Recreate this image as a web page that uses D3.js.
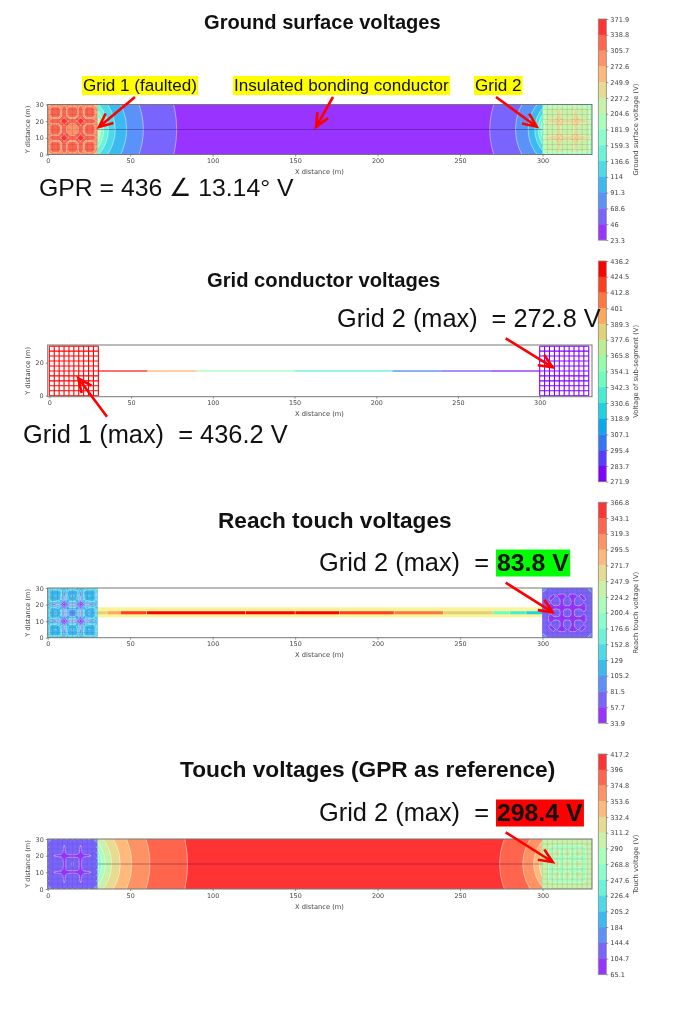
<!DOCTYPE html>
<html>
<head>
<meta charset="utf-8">
<title>Grid voltages</title>
<script src="https://cdn.jsdelivr.net/npm/d3@7"></script>
<style>
  html, body { margin: 0; background: #fff; }
  svg { display: block; filter: blur(0.5px); }
  text { font-family: "Liberation Sans", Arial, sans-serif; fill: #111; }
  .tiny text, text.tiny { font-family: "DejaVu Sans", sans-serif; fill: #444; }
</style>
</head>
<body>
<svg id="chart" width="680" height="1033"></svg>
<script>
// colorbar tick labels, top to bottom
const surfaceTicks = [371.9, 338.8, 305.7, 272.6, 249.9, 227.2, 204.6, 181.9, 159.3, 136.6, 114, 91.3, 68.6, 46, 23.3];
const conductorTicks = [436.2, 424.5, 412.8, 401, 389.3, 377.6, 365.8, 354.1, 342.3, 330.6, 318.9, 307.1, 295.4, 283.7, 271.9];
const reachTicks = [366.8, 343.1, 319.3, 295.5, 271.7, 247.9, 224.2, 200.4, 176.6, 152.8, 129, 105.2, 81.5, 57.7, 33.9];
const touchTicks = [417.2, 396, 374.8, 353.6, 332.4, 311.2, 290, 268.8, 247.6, 226.4, 205.2, 184, 144.4, 104.7, 65.1];

const xTicks = [0, 50, 100, 150, 200, 250, 300];
const yTicks = [0, 10, 20, 30];
const conductorYTicks = [0, 20];
const meshLines = [0, 3, 6, 9, 12, 15, 18, 21, 24, 27, 30];

// contour crossings on the bonding conductor (m) and the colour band outside each one
const surfaceLeftArcs = [78.2, 58, 47.9, 41, 36.8, 34, 32, 31];
const surfaceLeftBands = [1, 2, 3, 4, 5, 6, 7, 9];
const surfaceRightArcs = [268, 283.6, 291.3, 295.3, 297.4, 299];
const surfaceRightBands = [1, 2, 3, 4, 5, 6];
const touchLeftArcs = [84.8, 62, 51, 44, 38.8, 35, 32.7, 31];
const touchLeftBands = [12, 11, 10, 9, 8, 7, 6, 5];
const touchRightArcs = [274, 288, 294.6, 298];
const touchRightBands = [12, 11, 10, 9];

// bonding conductor sub-segments: [from m, to m, volts]
const conductorSegments = [[30, 60, 430], [60, 90, 395], [90, 150, 360], [150, 210, 335], [210, 240, 305], [240, 270, 285], [270, 300, 275]];
const reachSegments = [[30, 36, 255], [36, 44, 285], [44, 60, 340], [60, 120, 360], [120, 150, 345], [150, 177, 345], [177, 210, 325], [210, 240, 300], [240, 270, 260], [270, 280, 190], [280, 290, 170], [290, 300, 140]];

// one quarter of each grid (0 to 15 m, every 5/3 m), volts
const surfaceGrid1 = [
  [262, 268, 275, 270, 275, 285, 300, 290, 280, 275],
  [268, 300, 312, 315, 310, 295, 320, 300, 312, 312],
  [275, 312, 325, 325, 320, 300, 335, 305, 318, 320],
  [270, 315, 325, 328, 320, 300, 335, 305, 320, 325],
  [275, 310, 320, 320, 312, 300, 330, 300, 315, 318],
  [285, 295, 300, 300, 300, 315, 345, 320, 300, 300],
  [300, 320, 335, 335, 330, 345, 375, 345, 335, 335],
  [290, 300, 305, 305, 300, 320, 345, 320, 305, 300],
  [280, 312, 318, 320, 315, 300, 335, 305, 285, 295],
  [275, 312, 320, 325, 318, 300, 335, 300, 295, 310]
];
const surfaceGrid2 = [
  [172, 178, 182, 178, 180, 183, 188, 185, 183, 180],
  [178, 192, 208, 206, 206, 208, 222, 212, 208, 206],
  [182, 208, 215, 212, 210, 215, 235, 220, 215, 215],
  [178, 206, 212, 206, 208, 218, 242, 222, 216, 216],
  [180, 206, 210, 208, 210, 222, 242, 222, 214, 214],
  [183, 208, 215, 218, 222, 230, 246, 230, 220, 218],
  [188, 222, 235, 242, 242, 246, 262, 246, 242, 242],
  [185, 212, 220, 222, 222, 230, 246, 230, 220, 218],
  [183, 208, 215, 216, 214, 220, 242, 220, 210, 214],
  [180, 206, 215, 216, 214, 218, 242, 218, 214, 218]
];
const reachGrid1 = [
  [170, 150, 165, 155, 165, 150, 125, 150, 160, 155],
  [150, 120, 118, 118, 120, 132, 100, 132, 120, 118],
  [165, 118, 110, 110, 115, 132, 92, 132, 112, 112],
  [155, 118, 110, 104, 115, 135, 80, 135, 112, 95],
  [165, 120, 115, 115, 122, 140, 80, 140, 120, 115],
  [150, 132, 132, 135, 140, 115, 65, 115, 135, 132],
  [125, 100, 92, 80, 80, 65, 45, 65, 75, 80],
  [150, 132, 132, 135, 140, 115, 65, 115, 135, 132],
  [160, 120, 112, 112, 120, 135, 75, 135, 95, 95],
  [155, 118, 112, 95, 115, 132, 80, 132, 95, 85]
];
const reachGrid2 = [
  [115, 95, 72, 68, 68, 68, 66, 66, 66, 66],
  [95, 78, 68, 66, 66, 66, 65, 65, 65, 65],
  [72, 68, 65, 62, 60, 60, 60, 60, 60, 60],
  [68, 66, 62, 58, 50, 60, 50, 46, 50, 62],
  [68, 66, 60, 50, 62, 66, 62, 46, 62, 66],
  [68, 66, 60, 60, 66, 72, 66, 48, 66, 72],
  [66, 65, 60, 50, 62, 66, 62, 46, 62, 66],
  [66, 65, 60, 46, 46, 48, 46, 44, 46, 48],
  [66, 65, 60, 50, 62, 66, 62, 46, 62, 66],
  [66, 65, 62, 62, 66, 72, 66, 48, 66, 72]
];
const touchGrid1 = [
  [195, 150, 135, 150, 130, 150, 128, 150, 130, 150],
  [150, 132, 130, 130, 130, 130, 122, 130, 130, 130],
  [135, 130, 130, 130, 130, 130, 108, 130, 130, 130],
  [150, 130, 130, 128, 128, 126, 96, 126, 128, 126],
  [130, 130, 130, 128, 128, 124, 94, 124, 128, 128],
  [150, 130, 130, 126, 124, 118, 90, 118, 122, 124],
  [128, 122, 108, 96, 94, 90, 78, 90, 94, 96],
  [150, 130, 130, 126, 124, 118, 90, 112, 112, 112],
  [130, 130, 130, 128, 128, 122, 94, 112, 128, 118],
  [150, 130, 130, 126, 128, 124, 96, 112, 118, 92]
];
const touchGrid2 = [
  [300, 300, 298, 298, 298, 298, 298, 298, 298, 298],
  [300, 296, 295, 295, 295, 295, 295, 295, 295, 295],
  [298, 295, 292, 292, 292, 292, 292, 292, 292, 292],
  [298, 295, 292, 286, 282, 284, 282, 280, 282, 284],
  [298, 295, 291, 282, 292, 293, 292, 280, 292, 293],
  [298, 295, 291, 284, 293, 297, 293, 282, 293, 297],
  [298, 295, 291, 282, 292, 293, 292, 280, 292, 293],
  [298, 295, 291, 280, 280, 282, 280, 278, 280, 282],
  [298, 295, 291, 282, 292, 293, 292, 280, 292, 293],
  [298, 295, 291, 284, 293, 297, 293, 282, 293, 297]
];

// matplotlib "rainbow", optionally washed out like the alpha=0.8 contourf
function rainbow(t, alpha) {
  const c = [Math.abs(2 * t - 0.5), Math.sin(Math.PI * t), Math.cos(Math.PI * t / 2)];
  const mix = c.map(v => Math.round(255 * (alpha * Math.min(1, v) + 1 - alpha)));
  return `rgb(${mix[0]},${mix[1]},${mix[2]})`;
}
const solidBands = d3.range(14).map(i => rainbow(i / 13, 1));
const softBands = d3.range(14).map(i => rainbow(i / 13, 0.8));

const panels = [
  { title: 'Ground surface voltages', titleX: 204, titleY: 29, titleSize: 20.1, ticks: surfaceTicks, barLabel: 'Ground surface voltage (V)', bands: softBands,
    xDomain: [0, 330], yDomain: [0, 30], top: 104.5, bottom: 154.5, yTicks: yTicks, barTop: 19, barBottom: 240,
    base: 0, arcs: [[15, surfaceLeftArcs, surfaceLeftBands], [315, surfaceRightArcs, surfaceRightBands]],
    grids: [[0, surfaceGrid1], [300, surfaceGrid2]], midline: true },
  { title: 'Grid conductor voltages', titleX: 207, titleY: 287, titleSize: 20.2, ticks: conductorTicks, barLabel: 'Voltage of sub-segment (V)', bands: solidBands,
    xDomain: [-1, 332], yDomain: [-0.6, 30.7], top: 345, bottom: 396.7, yTicks: conductorYTicks, barTop: 261, barBottom: 481.7,
    meshVolts: [[0, 436.2], [300, 272.8]], segments: conductorSegments },
  { title: 'Reach touch voltages', titleX: 218, titleY: 528, titleSize: 22.6, ticks: reachTicks, barLabel: 'Reach touch voltage (V)', bands: softBands,
    xDomain: [0, 330], yDomain: [0, 30], top: 588, bottom: 637.7, yTicks: yTicks, barTop: 502.3, barBottom: 723,
    grids: [[0, reachGrid1], [300, reachGrid2]], strip: reachSegments },
  { title: 'Touch voltages (GPR as reference)', titleX: 180, titleY: 777, titleSize: 22.7, ticks: touchTicks, barLabel: 'Touch voltage (V)', bands: softBands,
    xDomain: [0, 330], yDomain: [0, 30], top: 839, bottom: 889, yTicks: yTicks, barTop: 754, barBottom: 974.3,
    base: 13, arcs: [[15, touchLeftArcs, touchLeftBands], [315, touchRightArcs, touchRightBands]],
    grids: [[0, touchGrid1], [300, touchGrid2]], midline: true }
];

const svg = d3.select('#chart');
const plotLeft = 47.7, plotRight = 592;
const barLeft = 598.3, barRight = 606.3;

// rebuild the full grid from its quarter
function mirrorQuarter(quarter) {
  const rows = quarter.concat(quarter.slice(0, -1).reverse());
  return rows.flatMap(r => r.concat(r.slice(0, -1).reverse()));
}

function drawGrid(g, panel, x, y, colorIndex, originX, quarter, clipId) {
  const size = quarter.length * 2 - 1;
  const step = 30 / (size - 1);
  const levels = panel.ticks.slice().sort((a, b) => a - b).slice(0, -1);
  const contours = d3.contours().size([size, size]).smooth(true).thresholds(levels)(mirrorQuarter(quarter));
  const project = d3.geoTransform({
    point(px, py) { this.stream.point(x(originX + (px - 0.5) * step), y((py - 0.5) * step)); }
  });
  g.append('clipPath').attr('id', clipId).append('rect')
    .attr('x', x(originX)).attr('y', y(30))
    .attr('width', x(originX + 30) - x(originX)).attr('height', y(0) - y(30));
  const patch = g.append('g').attr('clip-path', `url(#${clipId})`);
  patch.append('rect')
    .attr('x', x(originX)).attr('y', y(30))
    .attr('width', x(originX + 30) - x(originX)).attr('height', y(0) - y(30))
    .attr('fill', panel.bands[0]);
  patch.selectAll('path').data(contours).enter().append('path')
    .attr('d', d3.geoPath(project))
    .attr('fill', d => panel.bands[colorIndex(d.value)])
    .attr('stroke', 'rgba(255,255,255,0.5)')
    .attr('stroke-width', 0.8);
  meshLines.forEach(m => {
    patch.append('line').attr('x1', x(originX + m)).attr('x2', x(originX + m)).attr('y1', y(0)).attr('y2', y(30))
      .attr('stroke', 'rgba(60,60,60,0.16)').attr('stroke-width', 0.8);
    patch.append('line').attr('y1', y(m)).attr('y2', y(m)).attr('x1', x(originX)).attr('x2', x(originX + 30))
      .attr('stroke', 'rgba(60,60,60,0.16)').attr('stroke-width', 0.8);
  });
}

panels.forEach((panel, idx) => {
  const x = d3.scaleLinear().domain(panel.xDomain).range([plotLeft, plotRight]);
  const y = d3.scaleLinear().domain(panel.yDomain).range([panel.bottom, panel.top]);
  const asc = panel.ticks.slice().sort((a, b) => a - b);
  const color = d3.scaleThreshold().domain(asc.slice(1, -1)).range(panel.bands);
  const colorIndex = v => panel.bands.indexOf(color(v + 0.001));
  const g = svg.append('g');

  svg.append('text').attr('x', panel.titleX).attr('y', panel.titleY)
    .attr('font-size', panel.titleSize).attr('font-weight', 'bold').text(panel.title);

  const clipId = 'plot' + idx;
  g.append('clipPath').attr('id', clipId).append('rect')
    .attr('x', plotLeft).attr('y', panel.top)
    .attr('width', plotRight - plotLeft).attr('height', panel.bottom - panel.top);
  const plot = g.append('g').attr('clip-path', `url(#${clipId})`);

  // far field: nested arcs around each grid
  if (panel.arcs) {
    plot.append('rect').attr('x', plotLeft).attr('y', panel.top)
      .attr('width', plotRight - plotLeft).attr('height', panel.bottom - panel.top)
      .attr('fill', panel.bands[panel.base]);
    panel.arcs.forEach(([center, crossings, bands]) => {
      crossings.forEach((c, i) => {
        plot.append('ellipse')
          .attr('cx', x(center)).attr('cy', y(15))
          .attr('rx', Math.abs(x(c) - x(center))).attr('ry', Math.abs(y(15 + (c - center)) - y(15)))
          .attr('fill', panel.bands[bands[i]])
          .attr('stroke', 'rgba(255,255,255,0.45)').attr('stroke-width', 1);
      });
    });
  }

  // reach touch: only a narrow strip around the conductor
  if (panel.strip) {
    plot.append('rect').attr('x', x(30)).attr('width', x(300) - x(30))
      .attr('y', y(18.4)).attr('height', y(12.3) - y(18.4)).attr('fill', '#f9f39b');
    plot.selectAll('line.seg').data(panel.strip).enter().append('line').attr('class', 'seg')
      .attr('x1', d => x(d[0]) + 0.3).attr('x2', d => x(d[1]) - 0.3).attr('y1', y(15)).attr('y2', y(15))
      .attr('stroke', d => solidBands[colorIndex(d[2])]).attr('stroke-width', 3);
  }

  if (panel.grids) {
    panel.grids.forEach(([originX, quarter], i) => {
      drawGrid(plot, panel, x, y, colorIndex, originX, quarter, `grid${idx}_${i}`);
    });
  }

  if (panel.midline) {
    plot.append('line').attr('x1', x(30)).attr('x2', x(300)).attr('y1', y(15)).attr('y2', y(15))
      .attr('stroke', 'rgba(40,0,80,0.35)').attr('stroke-width', 1);
  }

  // conductor panel: mesh and line coloured by sub-segment
  if (panel.meshVolts) {
    panel.meshVolts.forEach(([originX, volts]) => {
      meshLines.forEach(m => {
        plot.append('line').attr('x1', x(originX + m)).attr('x2', x(originX + m)).attr('y1', y(0)).attr('y2', y(30))
          .attr('stroke', color(volts - 0.2)).attr('stroke-width', 1.1);
        plot.append('line').attr('y1', y(m)).attr('y2', y(m)).attr('x1', x(originX)).attr('x2', x(originX + 30))
          .attr('stroke', color(volts - 0.2)).attr('stroke-width', 1.1);
      });
    });
    plot.selectAll('line.seg').data(panel.segments).enter().append('line').attr('class', 'seg')
      .attr('x1', d => x(d[0])).attr('x2', d => x(d[1])).attr('y1', y(15)).attr('y2', y(15))
      .attr('stroke', d => color(d[2])).attr('stroke-opacity', 0.75).attr('stroke-width', 1.6);
  }

  // frame and axes
  g.append('rect').attr('x', plotLeft).attr('y', panel.top)
    .attr('width', plotRight - plotLeft).attr('height', panel.bottom - panel.top)
    .attr('fill', 'none').attr('stroke', '#777').attr('stroke-width', 1);

  const xAxis = g.append('g').attr('class', 'tiny').attr('transform', `translate(0,${panel.bottom})`)
    .call(d3.axisBottom(x).tickValues(xTicks).tickSize(2).tickPadding(2));
  const yAxis = g.append('g').attr('class', 'tiny').attr('transform', `translate(${plotLeft},0)`)
    .call(d3.axisLeft(y).tickValues(panel.yTicks).tickSize(2).tickPadding(2));
  [xAxis, yAxis].forEach(a => {
    a.select('.domain').remove();
    a.selectAll('text').attr('font-size', 6.4).attr('font-family', null);
    a.selectAll('line').attr('stroke', '#555').attr('stroke-width', 0.6);
  });

  g.append('text').attr('class', 'tiny').attr('x', 319.5).attr('y', panel.bottom + 19.5)
    .attr('text-anchor', 'middle').attr('font-size', 6.7).text('X distance (m)');
  g.append('text').attr('class', 'tiny').attr('text-anchor', 'middle').attr('font-size', 6.6)
    .attr('transform', `translate(30,${(panel.top + panel.bottom) / 2}) rotate(-90)`).text('Y distance (m)');

  // colorbar: equal-height bands, one between each pair of ticks
  const barY = d3.scalePoint().domain(panel.ticks).range([panel.barTop, panel.barBottom]);
  g.selectAll('rect.band').data(panel.ticks.slice(0, -1)).enter().append('rect').attr('class', 'band')
    .attr('x', barLeft).attr('width', barRight - barLeft)
    .attr('y', d => barY(d)).attr('height', barY.step() + 0.3)
    .attr('fill', (d, i) => panel.bands[13 - i]);
  g.append('rect').attr('x', barLeft).attr('y', panel.barTop)
    .attr('width', barRight - barLeft).attr('height', panel.barBottom - panel.barTop)
    .attr('fill', 'none').attr('stroke', '#888').attr('stroke-width', 0.8);
  const barAxis = g.append('g').attr('class', 'tiny').attr('transform', `translate(${barRight},0)`)
    .call(d3.axisRight(barY).tickFormat(d => d).tickSize(2).tickPadding(2));
  barAxis.select('.domain').remove();
  barAxis.selectAll('text').attr('font-size', 6.6).attr('font-family', null);
  barAxis.selectAll('line').attr('stroke', '#555').attr('stroke-width', 0.6);
  g.append('text').attr('class', 'tiny').attr('text-anchor', 'middle').attr('font-size', 6.8)
    .attr('transform', `translate(638,${(panel.barTop + panel.barBottom) / 2}) rotate(-90)`).text(panel.barLabel);
});

// callouts that were pasted on top of the figure
function callout(text, xPos, yPos, size, background, bold) {
  const t = svg.append('text').attr('x', xPos).attr('y', yPos).attr('font-size', size)
    .attr('font-weight', bold ? 'bold' : null).style('white-space', 'pre').text(text);
  if (background) {
    const b = t.node().getBBox();
    svg.insert('rect', () => t.node()).attr('x', b.x - 1).attr('y', b.y + 0.5)
      .attr('width', b.width + 2).attr('height', b.height).attr('fill', background);
  }
}
function arrow(x0, y0, x1, y1) {
  const a = Math.atan2(y0 - y1, x0 - x1);
  const spread = 24 * Math.PI / 180, len = 15;
  const head = [a - spread, a + spread].map(t => [x1 + len * Math.cos(t), y1 + len * Math.sin(t)]);
  svg.append('path')
    .attr('d', `M${x0},${y0}L${x1},${y1}M${head[0]}L${x1},${y1}L${head[1]}`)
    .attr('fill', 'none').attr('stroke', '#f00').attr('stroke-width', 2.6);
}

callout('Grid 1 (faulted)', 83, 90.5, 17.1, '#ff0');
callout('Insulated bonding conductor', 234, 90.5, 17.1, '#ff0');
callout('Grid 2', 475, 90.5, 17.1, '#ff0');
callout('GPR = 436 ∠ 13.14° V', 39, 196, 24.8);
callout('Grid 2 (max)  = 272.8 V', 337, 327, 25.3);
callout('Grid 1 (max)  = 436.2 V', 23, 443, 25.4);
callout('Grid 2 (max)  = ', 319, 571, 25.4);
callout('83.8 V', 497, 571, 24.8, '#0f0', true);
callout('Grid 2 (max)  = ', 319, 821, 25.4);
callout('298.4 V', 497, 821, 24.8, '#f00', true);

arrow(135, 97, 99, 127);
arrow(333, 97, 316, 127);
arrow(496, 97, 536.7, 126.7);
arrow(107, 416.7, 78.3, 378.3);
arrow(505.7, 338.3, 552.7, 367.3);
arrow(505.7, 582.7, 552.7, 612.3);
arrow(505.7, 832.3, 552.7, 862);
</script>
</body>
</html>
